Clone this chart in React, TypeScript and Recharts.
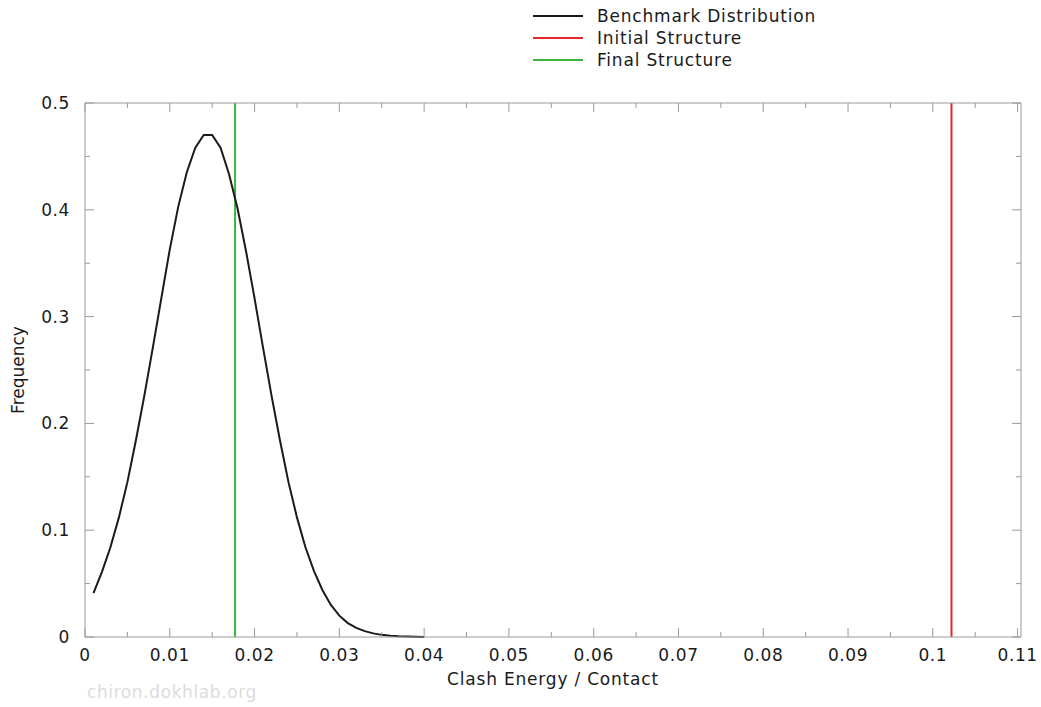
import React from "react"
import { LineChart, Line, XAxis, YAxis, ReferenceLine } from "recharts"

// clash energy per contact (x) and benchmark frequency (y)
const clashEnergy = [
  0.001, 0.002, 0.003, 0.004, 0.005, 0.006, 0.007, 0.008, 0.009, 0.01,
  0.011, 0.012, 0.013, 0.014, 0.015, 0.016, 0.017, 0.018, 0.019, 0.02,
  0.021, 0.022, 0.023, 0.024, 0.025, 0.026, 0.027, 0.028, 0.029, 0.03,
  0.031, 0.032, 0.033, 0.034, 0.035, 0.036, 0.037, 0.038, 0.039, 0.04,
]
const frequency = [
  0.041, 0.061, 0.084, 0.112, 0.145, 0.184, 0.226, 0.271, 0.317, 0.363,
  0.403, 0.435, 0.458, 0.47, 0.47, 0.458, 0.433, 0.401, 0.361, 0.317,
  0.271, 0.226, 0.184, 0.145, 0.112, 0.084, 0.062, 0.044, 0.03, 0.02,
  0.013, 0.0085, 0.0055, 0.0034, 0.002, 0.0012, 0.0007, 0.0004, 0.0002, 0.0001,
]

const initialStructure = 0.1022
const finalStructure = 0.0177

const xTicks = [
  0, 0.005, 0.01, 0.015, 0.02, 0.025, 0.03, 0.035, 0.04, 0.045, 0.05, 0.055,
  0.06, 0.065, 0.07, 0.075, 0.08, 0.085, 0.09, 0.095, 0.1, 0.105, 0.11,
]
const xLabels = ["0", "0.01", "0.02", "0.03", "0.04", "0.05", "0.06", "0.07", "0.08", "0.09", "0.1", "0.11"]
const yTicks = [0, 0.05, 0.1, 0.15, 0.2, 0.25, 0.3, 0.35, 0.4, 0.45, 0.5]
const yLabels = ["0", "0.1", "0.2", "0.3", "0.4", "0.5"]

const legendItems = [
  { name: "Benchmark Distribution", color: "#1a1a1a" },
  { name: "Initial Structure", color: "#e8262a" },
  { name: "Final Structure", color: "#3cb43c" },
]

const data = clashEnergy.map((x, i) => ({ x, y: frequency[i] }))

const FONT = "'DejaVu Sans', sans-serif"
const AXIS = "#9a9a9a"
const TEXT = "#1a1a1a"

const labelFor = (v: number, labels: string[]) => labels.find((l) => Math.abs(parseFloat(l) - v) < 1e-9)

function XTick({ x, y, payload, top }: any) {
  const label = labelFor(payload.value, xLabels)
  const len = label ? 9 : 5
  return (
    <g>
      <line x1={x} x2={x} y1={y} y2={top ? y + len : y - len} stroke={AXIS} />
      {!top && label && (
        <text x={x} y={y + 24} textAnchor="middle" fontSize={17} fontFamily={FONT} fill={TEXT} letterSpacing={0.6}>
          {label}
        </text>
      )}
    </g>
  )
}

function YTick({ x, y, payload, right }: any) {
  const label = labelFor(payload.value, yLabels)
  const len = label ? 9 : 5
  return (
    <g>
      <line x1={x} x2={right ? x - len : x + len} y1={y} y2={y} stroke={AXIS} />
      {!right && label && (
        <text x={x - 15} y={y + 6} textAnchor="end" fontSize={17} fontFamily={FONT} fill={TEXT} letterSpacing={0.6}>
          {label}
        </text>
      )}
    </g>
  )
}

export default function App() {
  return (
    <div style={{ position: "absolute", left: 0, top: 0, width: 1041, height: 707, background: "#fff" }}>
      <LineChart width={1041} height={707} data={data} margin={{ top: 102, right: 19, left: 0, bottom: 0 }}>
        <XAxis
          dataKey="x"
          type="number"
          domain={[0, 0.1104]}
          ticks={xTicks}
          allowDataOverflow
          height={70}
          tickSize={0}
          tickMargin={0}
          tickLine={false}
          axisLine={{ stroke: AXIS }}
          tick={<XTick />}
          interval={0}
          label={{ value: "Clash Energy / Contact", position: "insideBottom", offset: 22, fontSize: 17, fontFamily: FONT, fill: TEXT, letterSpacing: 0.8 }}
        />
        <XAxis
          xAxisId="top"
          orientation="top"
          dataKey="x"
          type="number"
          domain={[0, 0.1104]}
          ticks={xTicks}
          allowDataOverflow
          height={1}
          tickSize={0}
          tickMargin={0}
          tickLine={false}
          axisLine={{ stroke: AXIS }}
          tick={<XTick top />}
          interval={0}
        />
        <YAxis
          type="number"
          domain={[0, 0.5]}
          ticks={yTicks}
          width={85}
          tickSize={0}
          tickMargin={0}
          tickLine={false}
          axisLine={{ stroke: AXIS }}
          tick={<YTick />}
          interval={0}
          label={{ value: "Frequency", angle: -90, position: "insideLeft", offset: 18, fontSize: 17, fontFamily: FONT, fill: TEXT, style: { textAnchor: "middle" } }}
        />
        <YAxis
          yAxisId="right"
          orientation="right"
          type="number"
          domain={[0, 0.5]}
          ticks={yTicks}
          width={1}
          tickSize={0}
          tickMargin={0}
          tickLine={false}
          axisLine={{ stroke: AXIS }}
          tick={<YTick right />}
          interval={0}
        />
        <ReferenceLine x={finalStructure} stroke={legendItems[2].color} strokeWidth={2} />
        <ReferenceLine x={initialStructure} stroke={legendItems[1].color} strokeWidth={2} />
        {/* invisible twin so the mirrored top/right axes get drawn */}
        <Line xAxisId="top" yAxisId="right" dataKey="y" stroke="none" dot={false} activeDot={false} isAnimationActive={false} />
        <Line dataKey="y" type="linear" stroke={legendItems[0].color} strokeWidth={2} dot={false} isAnimationActive={false} />
      </LineChart>

      {/* legend */}
      <div style={{ position: "absolute", left: 533, top: 5, fontFamily: FONT, fontSize: 17, color: TEXT, letterSpacing: 0.8 }}>
        {legendItems.map((item) => (
          <div key={item.name} style={{ display: "flex", alignItems: "center", height: 22 }}>
            <div style={{ width: 50, height: 2, background: item.color, marginRight: 14 }} />
            <span>{item.name}</span>
          </div>
        ))}
      </div>

      {/* watermark */}
      <div style={{ position: "absolute", left: 87, top: 682, fontFamily: FONT, fontSize: 17, color: "#dcdcdc", letterSpacing: 0.6 }}>
        chiron.dokhlab.org
      </div>
    </div>
  )
}
